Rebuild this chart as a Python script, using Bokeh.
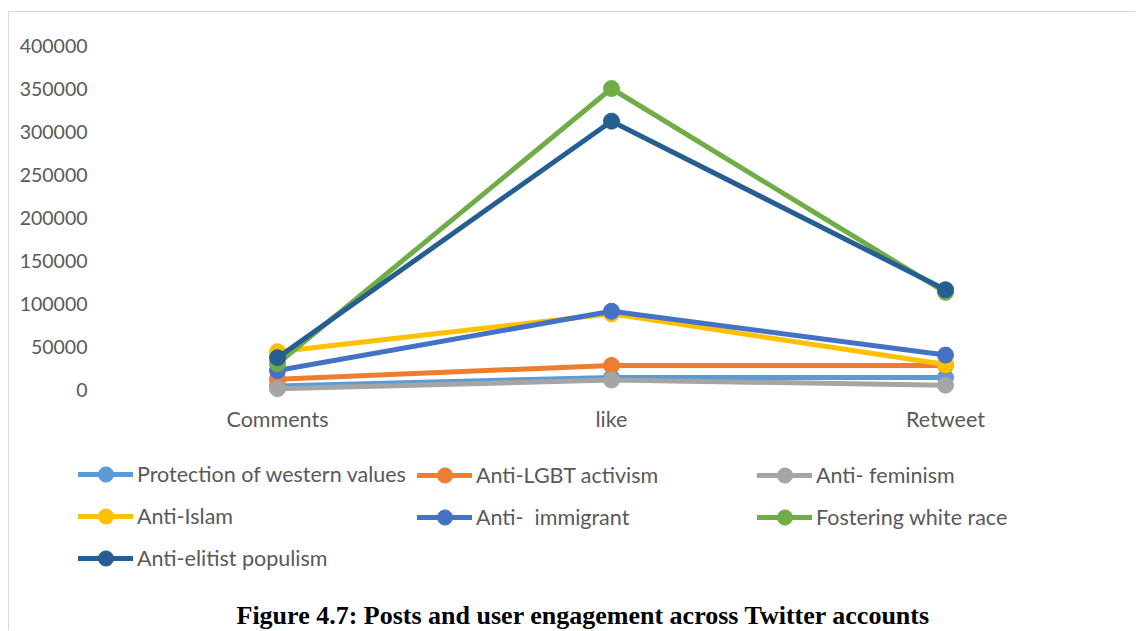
from bokeh.plotting import figure
from bokeh.models import Range1d, Legend, LegendItem, Label, FixedTicker, LinearAxis
from bokeh.embed import file_html
from bokeh.resources import INLINE

categories = ["Comments", "like", "Retweet"]
series_names = [
    "Protection of western values",
    "Anti-LGBT activism",
    "Anti- feminism",
    "Anti-Islam",
    "Anti-  immigrant",
    "Fostering white race",
    "Anti-elitist populism",
]
protection = [4000, 14000, 14000]
anti_lgbt = [12000, 28000, 28000]
anti_feminism = [1000, 11000, 5000]
anti_islam = [44000, 88000, 29000]
anti_immigrant = [22000, 91000, 40000]
fostering = [30000, 350000, 113000]
anti_elitist = [37000, 312000, 116000]
series_values = [protection, anti_lgbt, anti_feminism, anti_islam,
                 anti_immigrant, fostering, anti_elitist]
colors = ["#5B9BD5", "#ED7D31", "#A5A5A5", "#FFC000", "#4472C4", "#70AD47", "#255E91"]
y_ticks = [0, 50000, 100000, 150000, 200000, 250000, 300000, 350000, 400000]
caption = "Figure 4.7: Posts and user engagement across Twitter accounts"

# category positions on the numeric x scale (one unit per category band)
x_pos = [i + 0.5 for i in range(len(categories))]

# page geometry (pixels)
OX, OY = 9, 12                 # canvas origin on the page (after border)
W, H = 1136 - OX, 631 - OY
PLOT_L, PLOT_R = 110, 1112     # plot area x extent on page
Y0, Y400 = 389, 45             # page y of value 0 and of 400000
band = (PLOT_R - PLOT_L) / len(categories)
ppu = (Y0 - Y400) / 400000.0

x_start = (OX - PLOT_L) / band
x_end = (1136 - PLOT_L) / band
y_top = (Y0 - OY) / ppu
y_bot = -(631 - Y0) / ppu

p = figure(
    x_range=Range1d(x_start, x_end),
    y_range=Range1d(y_bot, y_top),
    width=W, height=H,
    output_backend="svg", toolbar_location=None,
    min_border_left=0, min_border_right=0, min_border_top=0, min_border_bottom=0,
    x_axis_type=None, y_axis_type=None,
)
p.styles = {"margin-left": "8px", "margin-top": "11px",
            "border-top": "1px solid #d9d9d9", "border-left": "1px solid #d9d9d9"}
p.outline_line_color = None
p.background_fill_color = "white"
p.border_fill_color = "white"

yaxis = LinearAxis(ticker=FixedTicker(ticks=y_ticks), fixed_location=0)
yaxis.axis_line_color = None
yaxis.major_tick_line_color = None
yaxis.minor_tick_line_color = None
yaxis.major_label_standoff = 17
yaxis.major_label_text_font = "Lato"
yaxis.major_label_text_font_size = "19.5px"
yaxis.major_label_text_color = "#595959"
yaxis.formatter.use_scientific = False
p.add_layout(yaxis, "left")

xaxis = LinearAxis(ticker=FixedTicker(ticks=x_pos), fixed_location=0,
                   major_label_overrides={x: c for x, c in zip(x_pos, categories)})
xaxis.axis_line_color = None
xaxis.major_tick_line_color = None
xaxis.minor_tick_line_color = None
xaxis.major_label_standoff = 10
xaxis.major_label_text_font = "Lato"
xaxis.major_label_text_font_size = "21.5px"
xaxis.major_label_text_color = "#595959"
p.add_layout(xaxis, "below")

p.xgrid.grid_line_color = None
p.ygrid.grid_line_color = "#d9d9d9"
p.ygrid.grid_line_width = 1.5
p.ygrid.ticker = FixedTicker(ticks=y_ticks)
p.ygrid.bounds = (0, len(categories))

items = []
for name, vals, c in zip(series_names, series_values, colors):
    r1 = p.line(x_pos, vals, line_color=c, line_width=5, line_cap="round", line_join="round")
    r2 = p.scatter(x_pos, vals, size=16, fill_color=c, line_color=c)
    items.append(LegendItem(label=name, renderers=[r1, r2]))

GH = 38
cols = [[items[0], items[3], items[6]], [items[1], items[4]], [items[2], items[5]]]
xstarts = [78, 417, 757]
for col, xs in zip(cols, xstarts):
    nrows = len(col)
    last_center = 475 + (nrows - 1) * 41.5
    bottom = last_center + GH / 2
    lg = Legend(items=col, location=(xs - OX, 631 - bottom),
                orientation="vertical", padding=0, margin=0,
                border_line_color=None, background_fill_alpha=0,
                glyph_width=55, glyph_height=GH, label_height=21,
                spacing=4, label_standoff=4,
                label_text_font="Lato", label_text_font_size="21.5px",
                label_text_color="#595959", label_text_baseline="middle")
    p.add_layout(lg, "center")

cap = Label(x=583 - OX, y=631 - 615, x_units="screen", y_units="screen",
            text=caption, text_align="center", text_baseline="middle",
            text_font="Liberation Serif", text_font_style="bold",
            text_font_size="26px", text_color="black")
p.add_layout(cap)

open("out.html", "w").write(file_html(p, INLINE))
